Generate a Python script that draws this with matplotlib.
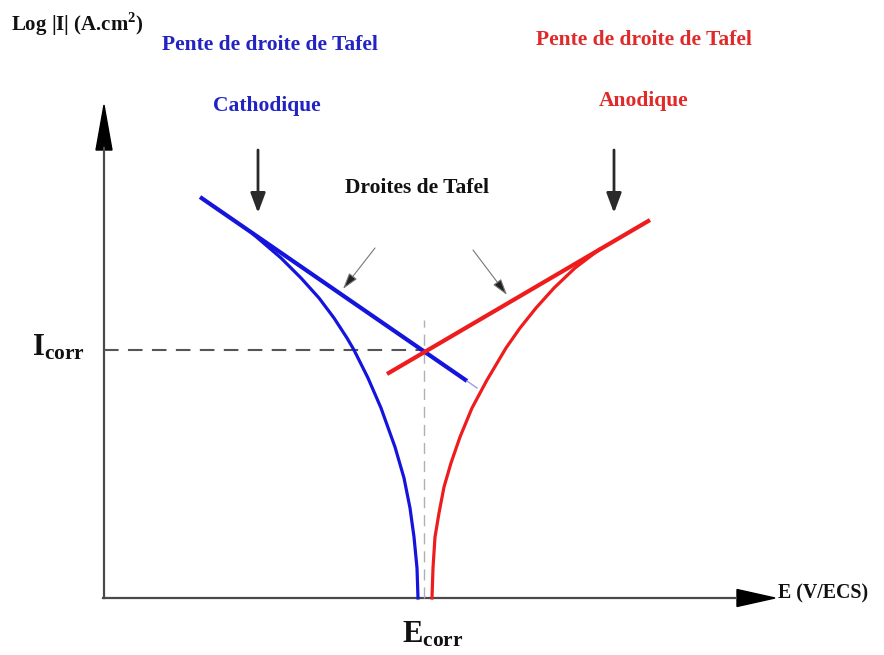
import numpy as np
import matplotlib.pyplot as plt

plt.rcParams['font.family'] = ['Liberation Serif', 'DejaVu Serif']
plt.rcParams['mathtext.fontset'] = 'custom'
plt.rcParams['mathtext.rm'] = 'Liberation Serif'
plt.rcParams['mathtext.bf'] = 'Liberation Serif:bold'

# Schematic units: E along x, log|I| along y, origin at the axes corner
E_corr = 320
I_corr = 248

# Tafel lines (end points)
cath_line_E = [96, 363]
cath_line_I = [401, 217]
anod_line_E = [283, 546]
anod_line_I = [224, 378]

# Polarisation branches
cath_curve_E = [149, 177, 197, 215, 230, 243, 250, 264, 277, 291, 300, 306, 310, 313, 314]
cath_curve_I = [364, 340, 320, 300, 280, 260, 248, 220, 190, 151, 120, 90, 61, 30, 0]
anod_curve_E = [496, 471, 450, 432, 416, 402, 383, 368, 356, 347, 340, 335, 331, 329, 328]
anod_curve_I = [349, 330, 310, 290, 270, 250, 218, 190, 161, 135, 111, 85, 61, 30, 0]

BLUE = '#1414dc'
RED = '#ee1c1c'
AXIS = '#4a4a4a'

fig = plt.figure(figsize=(8.84, 6.55), dpi=100)
ax = fig.add_axes([0, 0, 1, 1])
ax.set_xlim(-104, 780)
ax.set_ylim(-57, 598)
ax.axis('off')

# axes: grey shafts, solid black heads
ax.plot([0, 0], [0, 450], color=AXIS, lw=1.6)
ax.plot([-1, 632], [0, 0], color=AXIS, lw=1.6)
ax.arrow(0, 448, 0, 45, width=0.01, head_width=16, head_length=45,
         length_includes_head=True, color='black')
ax.arrow(630, 0, 41, 0, width=0.01, head_width=17, head_length=38,
         length_includes_head=True, color='black')

# Icorr / Ecorr guides
ax.plot([0, E_corr], [I_corr, I_corr], color='#555555', lw=1.5,
        linestyle=(0, (7, 4.5)))
ax.plot([E_corr, E_corr], [0, I_corr + 30], color='#b0b0b0', lw=1.0,
        linestyle=(0, (8, 5)))

# curves
ax.plot(cath_curve_E, cath_curve_I, color=BLUE, lw=2.3, solid_joinstyle='round')
ax.plot(anod_curve_E, anod_curve_I, color=RED, lw=2.3, solid_joinstyle='round')
ax.plot(cath_line_E, cath_line_I, color=BLUE, lw=3.0, solid_capstyle='butt')
ax.plot([cath_line_E[1], 373], [cath_line_I[1], 210], color='#9a9aee', lw=1.0)
ax.plot(anod_line_E, anod_line_I, color=RED, lw=3.0, solid_capstyle='butt')

# pointers to the Tafel lines
for tail, head in [((271, 350), (239, 309)), ((369, 348), (403, 303))]:
    ax.annotate('', xy=head, xytext=tail,
                arrowprops=dict(arrowstyle='-|>,head_length=1.0,head_width=0.3',
                                mutation_scale=10, lw=0.8, color='#777777',
                                fc='#222222', shrinkA=0, shrinkB=0))
for x in [154, 510]:
    ax.annotate('', xy=(x, 385), xytext=(x, 448),
                arrowprops=dict(arrowstyle='-|>,head_length=1.2,head_width=0.45',
                                mutation_scale=10, lw=2.0, color='#2a2a2a',
                                shrinkA=0, shrinkB=0))

# labels
bold = dict(fontweight='bold', ha='center', va='center')
ax.text(-93, 574, r'Log |I| (A.cm$^{\mathbf{2}}$)', fontsize=15,
        fontweight='bold', ha='left', va='center', color='#111111')
ax.text(166, 553, 'Pente de droite de Tafel', fontsize=15.5, color='#2323c4', **bold)
ax.text(163, 492, 'Cathodique', fontsize=15.5, color='#2323c4', **bold)
ax.text(540, 558, 'Pente de droite de Tafel', fontsize=15.5, color='#e02a2a', **bold)
ax.text(540, 497, 'Anodique', fontsize=15.5, color='#e02a2a', **bold)
ax.text(313, 410, 'Droites de Tafel', fontsize=15.5, color='#111111', **bold)
ax.text(-46, 250, r'$\mathbf{I_{corr}}$', fontsize=22, color='#111111',
        ha='center', va='center')
ax.text(329, -37, r'$\mathbf{E_{corr}}$', fontsize=22, color='#111111',
        ha='center', va='center')
ax.text(674, 5, 'E (V/ECS)', fontsize=14.3, fontweight='bold', color='#111111',
        ha='left', va='center')

fig.savefig('out.png', dpi=100)
